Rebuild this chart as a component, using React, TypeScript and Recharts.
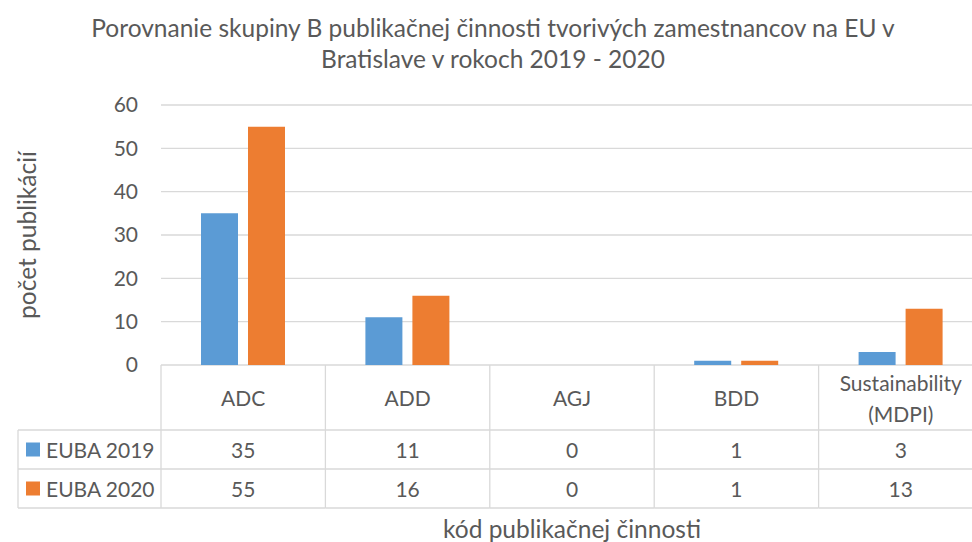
import { Bar, BarChart, CartesianGrid, Label, XAxis, YAxis } from "recharts";

const categories = ["ADC", "ADD", "AGJ", "BDD", "Sustainability\n(MDPI)"];
const euba2019 = [35, 11, 0, 1, 3];
const euba2020 = [55, 16, 0, 1, 13];
const seriesNames = ["EUBA 2019", "EUBA 2020"];
const yTicks = [0, 10, 20, 30, 40, 50, 60];

const titleLines = [
  "Porovnanie skupiny B publikačnej činnosti tvorivých zamestnancov na EU v",
  "Bratislave v rokoch 2019 - 2020",
];
const xTitle = "kód publikačnej činnosti";
const yTitle = "počet publikácií";

const data = categories.map((name, i) => ({ name, y2019: euba2019[i], y2020: euba2020[i] }));

const FONT = "Lato, 'Open Sans', sans-serif";
const TEXT = "#595959";
const LINE = "#d9d9d9";
const COLORS = ["#5B9BD5", "#ED7D31"];
const TABLE_FS = 21;

// table geometry, relative to the plot floor
const ROW_CAT = 65;
const ROW_H = 39;
const LEGEND_W = 143;

function TableTick(props: any) {
  const { x, y, payload, index, width, visibleTicksCount } = props;
  const band = width / (visibleTicksCount || categories.length);
  const left = x - band / 2;
  const right = x + band / 2;
  const r1 = y + ROW_CAT;
  const r2 = r1 + ROW_H;
  const r3 = r2 + ROW_H;
  const lines = String(payload.value).split("\n");
  const rows = [euba2019, euba2020];
  const isLast = index === categories.length - 1;

  return (
    <g>
      <line x1={left} x2={left} y1={y} y2={r3} stroke={LINE} strokeWidth={1.3} />
      {isLast && <line x1={right} x2={right} y1={y} y2={r3} stroke={LINE} strokeWidth={1.3} />}
      {[r1, r2, r3].map((ly) => (
        <line key={ly} x1={left} x2={right} y1={ly} y2={ly} stroke={LINE} strokeWidth={1.3} />
      ))}
      {lines.map((t, li) => (
        <text
          key={t}
          x={x}
          y={y + ROW_CAT / 2 + (li - (lines.length - 1) / 2) * 31}
          textAnchor="middle"
          dominantBaseline="central"
          fill={TEXT}
          fontSize={TABLE_FS}
          fontFamily={FONT}
        >
          {t}
        </text>
      ))}
      {rows.map((vals, ri) => (
        <text
          key={ri}
          x={x}
          y={r1 + ROW_H * ri + ROW_H / 2}
          textAnchor="middle"
          dominantBaseline="central"
          fill={TEXT}
          fontSize={TABLE_FS}
          fontFamily={FONT}
        >
          {vals[index]}
        </text>
      ))}
      {index === 0 && (
        <g>
          <line x1={left - LEGEND_W} x2={left - LEGEND_W} y1={r1} y2={r3} stroke={LINE} strokeWidth={1.3} />
          {[r1, r2, r3].map((ly) => (
            <line key={ly} x1={left - LEGEND_W} x2={left} y1={ly} y2={ly} stroke={LINE} strokeWidth={1.3} />
          ))}
          {seriesNames.map((s, si) => (
            <g key={s}>
              <rect
                x={left - LEGEND_W + 8}
                y={r1 + ROW_H * si + ROW_H / 2 - 7}
                width={14}
                height={14}
                fill={COLORS[si]}
              />
              <text
                x={left - LEGEND_W + 28}
                y={r1 + ROW_H * si + ROW_H / 2}
                dominantBaseline="central"
                fill={TEXT}
                fontSize={TABLE_FS}
                fontFamily={FONT}
              >
                {s}
              </text>
            </g>
          ))}
        </g>
      )}
    </g>
  );
}

export default function App() {
  return (
    <div
      style={{
        position: "absolute",
        left: 0,
        top: 0,
        width: 972,
        height: 542,
        overflow: "hidden",
        background: "#fff",
        fontFamily: FONT,
      }}
    >
      <div
        style={{
          position: "absolute",
          left: 0,
          top: 12,
          width: 986,
          textAlign: "center",
          color: TEXT,
          fontSize: 24.5,
          lineHeight: "31px",
        }}
      >
        {titleLines.map((t) => (
          <div key={t}>{t}</div>
        ))}
      </div>
      <BarChart
        width={990}
        height={542}
        data={data}
        margin={{ top: 105, right: 7, left: 101, bottom: 0 }}
        barGap={10}
        barSize={37}
      >
        <CartesianGrid vertical={false} stroke={LINE} strokeWidth={1.3} />
        <XAxis
          dataKey="name"
          axisLine={false}
          tickLine={false}
          tickSize={0}
          tickMargin={0}
          height={177}
          interval={0}
          tick={<TableTick />}
        >
          <Label
            content={({ viewBox }: any) => (
              <text
                x={viewBox.x + viewBox.width / 2}
                y={viewBox.y + 163}
                textAnchor="middle"
                dominantBaseline="central"
                fill={TEXT}
                fontSize={24.5}
                fontFamily={FONT}
              >
                {xTitle}
              </text>
            )}
          />
        </XAxis>
        <YAxis
          width={60}
          domain={[0, 60]}
          ticks={yTicks}
          axisLine={false}
          tickLine={false}
          tickSize={0}
          tickMargin={23}
          tick={{ fill: TEXT, fontSize: 21, fontFamily: FONT }}
        >
          <Label
            content={({ viewBox }: any) => (
              <text
                x={26}
                y={viewBox.y + viewBox.height / 2}
                transform={`rotate(-90 26 ${viewBox.y + viewBox.height / 2})`}
                textAnchor="middle"
                dominantBaseline="central"
                fill={TEXT}
                fontSize={24.5}
                fontFamily={FONT}
              >
                {yTitle}
              </text>
            )}
          />
        </YAxis>
        <Bar dataKey="y2019" name={seriesNames[0]} fill={COLORS[0]} isAnimationActive={false} />
        <Bar dataKey="y2020" name={seriesNames[1]} fill={COLORS[1]} isAnimationActive={false} />
      </BarChart>
    </div>
  );
}
